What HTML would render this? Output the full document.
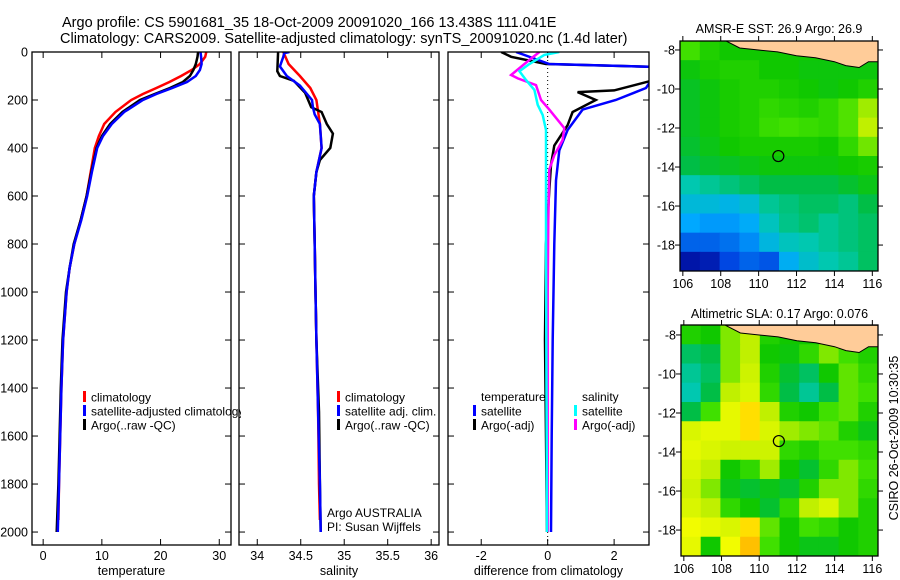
<!DOCTYPE html>
<html><head><meta charset="utf-8"><style>
html,body{margin:0;padding:0;background:#fff;}
svg{display:block;font-family:"Liberation Sans",sans-serif;}
text{fill:#000;}
</style></head><body>
<svg id="fig" width="900" height="580" viewBox="0 0 900 580" xmlns="http://www.w3.org/2000/svg">
<text x="62" y="27" font-size="14.5">Argo profile: CS 5901681_35 18-Oct-2009 20091020_166 13.438S 111.041E</text>
<text x="60" y="43" font-size="14.5">Climatology: CARS2009. Satellite-adjusted climatology: synTS_20091020.nc (1.4d later)</text>
<text transform="translate(898,438) rotate(-90)" text-anchor="middle" font-size="12.5">CSIRO 26-Oct-2009 10:30:35</text>
<g id="plots"></g>
</svg>
<script>
// ---------- profile data ----------
const depthTicks = [0,200,400,600,800,1000,1200,1400,1600,1800,2000];
const tempTicks = [0,10,20,30];
const salTicks = [34,34.5,35,35.5,36];
const salTickLabels = ["34","34.5","35","35.5","36"];
const diffTicks = [-2,0,2];

const tClimDepth = [0,20,50,75,100,125,150,175,200,250,300,350,400,500,600,700,800,900,1000,1200,1400,1600,1800,1950];
const tClimVal   = [27.8,27.6,26.7,25.3,23.5,21.5,19.3,17,15,12.3,10.4,9.5,8.8,8.1,7.4,6.4,5.3,4.5,4.0,3.4,3.1,2.9,2.7,2.6];
const tSatDepth = [0,20,50,75,100,125,150,175,200,250,300,350,400,500,600,700,800,900,1000,1200,1400,1600,1800,2000];
const tSatVal   = [26.8,26.9,27.0,26.7,26.0,24.5,22.0,19.3,17.0,13.8,11.7,10.2,9.2,8.3,7.5,6.5,5.3,4.5,4.0,3.4,3.1,2.9,2.7,2.5];
const tArgoDepth = [0,20,50,75,100,125,150,175,200,250,300,350,400,500,600,700,800,900,1000,1200,1400,1600,1800,2000];
const tArgoVal   = [26.4,26.3,26.0,25.6,25.0,23.8,21.6,19.0,16.5,13.5,11.4,10.0,9.1,8.2,7.4,6.4,5.2,4.5,3.9,3.3,3.0,2.8,2.6,2.3];

const sClimDepth = [0,50,100,150,200,300,400,500,600,800,1000,1200,1500,1800,1950];
const sClimVal   = [34.30,34.36,34.49,34.61,34.68,34.72,34.74,34.68,34.65,34.66,34.67,34.68,34.70,34.71,34.72];
const sSatDepth = [0,5,20,60,100,140,200,230,260,300,400,500,600,800,1000,1200,1500,1800,2000];
const sSatVal   = [34.37,34.31,34.30,34.26,34.34,34.49,34.63,34.64,34.66,34.72,34.74,34.68,34.65,34.66,34.67,34.68,34.70,34.72,34.73];
const sArgoDepth = [0,80,100,120,170,230,250,300,340,400,450,500,600,800,1000,1200,1500,1800,2000];
const sArgoVal   = [34.24,34.23,34.26,34.42,34.55,34.62,34.74,34.80,34.87,34.84,34.72,34.68,34.65,34.66,34.67,34.68,34.71,34.72,34.73];

const dTSatDepth = [0,50,62,100,150,200,240,325,410,535,800,1200,1600,2000];
const dTSatVal   = [-0.95,0.05,3.2,3.2,2.96,2.05,1.05,0.6,0.35,0.25,0.2,0.15,0.12,0.1];
const dTArgoDepth = [0,20,50,62,117,160,167,200,250,305,390,470,575,800,1200,1600,2000];
const dTArgoVal   = [-1.4,-1.1,-0.05,3.2,3.2,2.0,0.9,1.45,0.75,0.6,0.2,0.1,0.05,-0.05,-0.08,-0.05,-0.02];
const dSArgoDepth = [0,33,96,110,138,200,240,317,367,430,490,700,1000,1500,2000];
const dSArgoVal   = [-0.25,-0.55,-1.1,-0.9,-0.35,-0.2,0.05,0.5,0.45,0.2,0.05,0.02,0.0,0.0,0.0];
const dSSatDepth = [0,12,50,80,117,158,220,263,325,500,800,1200,1600,2000];
const dSSatVal   = [0.35,-0.1,-0.55,-0.85,-0.65,-0.4,-0.3,-0.15,-0.05,-0.05,-0.05,-0.04,-0.03,-0.02];

// ---------- map data ----------
const sstGrid = [
[0.62,0.58,0.56,0.56,0.56,0.56,0.56,0.56,0.72,0.78],
[0.55,0.57,0.58,0.58,0.56,0.56,0.55,0.55,0.55,0.55],
[0.53,0.55,0.57,0.58,0.58,0.57,0.56,0.55,0.56,0.58],
[0.53,0.55,0.57,0.58,0.60,0.59,0.58,0.60,0.63,0.68],
[0.53,0.55,0.57,0.58,0.61,0.62,0.61,0.60,0.63,0.70],
[0.52,0.54,0.56,0.57,0.57,0.57,0.57,0.56,0.60,0.65],
[0.50,0.52,0.53,0.54,0.55,0.55,0.55,0.55,0.56,0.57],
[0.42,0.44,0.46,0.48,0.50,0.50,0.50,0.50,0.52,0.54],
[0.36,0.36,0.34,0.37,0.44,0.46,0.48,0.48,0.46,0.50],
[0.30,0.28,0.28,0.31,0.40,0.45,0.47,0.44,0.46,0.48],
[0.20,0.20,0.22,0.26,0.35,0.40,0.42,0.44,0.46,0.48],
[0.05,0.07,0.16,0.20,0.18,0.32,0.38,0.42,0.44,0.48]];
const slaGrid = [
[0.58,0.56,0.66,0.70,0.58,0.56,0.56,0.58,0.56,0.60],
[0.48,0.50,0.66,0.70,0.56,0.55,0.60,0.66,0.62,0.58],
[0.44,0.48,0.66,0.72,0.58,0.52,0.48,0.56,0.64,0.60],
[0.42,0.50,0.70,0.74,0.60,0.50,0.44,0.50,0.64,0.62],
[0.50,0.62,0.76,0.84,0.70,0.58,0.56,0.62,0.64,0.58],
[0.74,0.76,0.76,0.84,0.74,0.68,0.66,0.64,0.58,0.54],
[0.76,0.74,0.72,0.72,0.72,0.60,0.58,0.62,0.62,0.60],
[0.74,0.70,0.56,0.60,0.68,0.56,0.52,0.60,0.66,0.62],
[0.72,0.66,0.54,0.52,0.54,0.52,0.58,0.66,0.66,0.60],
[0.74,0.70,0.60,0.56,0.52,0.60,0.70,0.74,0.66,0.58],
[0.78,0.76,0.74,0.84,0.64,0.56,0.62,0.60,0.56,0.58],
[0.76,0.56,0.78,0.88,0.62,0.56,0.54,0.54,0.56,0.58]];
const lonTicks = [106,108,110,112,114,116];
const latTicks = [-8,-10,-12,-14,-16,-18];
const coastLon = [108.2,109,110,111,112,113,114,114.6,115.3,115.8,116.4,116.4];
const coastLat = [-7.5,-7.9,-8.0,-8.1,-8.3,-8.4,-8.6,-8.8,-8.9,-8.6,-8.6,-7.5];
const argoLon = 111.041, argoLat = -13.438;

// ---------- drawing ----------
const NS='http://www.w3.org/2000/svg';
const root=document.getElementById('plots');
function mk(tag,attrs,parent){const e=document.createElementNS(NS,tag);for(const k in attrs)e.setAttribute(k,attrs[k]);(parent||root).appendChild(e);return e;}
const Y0=52, Y1=545, D1=2054;
const yD = d => Y0 + d*(Y1-Y0)/D1;

function panel(name,x0,x1,vmin,vmax,ticks,labels,xtitle,showY){
  const g=mk('g',{});
  
  
  const sx=v=>x0+(v-vmin)*(x1-x0)/(vmax-vmin);
  ticks.forEach((t,i)=>{
    const x=sx(t);
    const a=mk('line',{x1:x,x2:x,y1:Y1,y2:Y1-6,stroke:'#000','stroke-width':1},g);
    
    mk('line',{x1:x,x2:x,y1:Y0,y2:Y0+6,stroke:'#000','stroke-width':1},g);
    const tx=mk('text',{x:x,y:560,'text-anchor':'middle','font-size':12.5},g);
    
    tx.textContent=labels[i];
  });
  depthTicks.forEach(d=>{
    const y=yD(d);
    mk('line',{x1:x0,x2:x0+6,y1:y,y2:y,stroke:'#000'},g);
    mk('line',{x1:x1-6,x2:x1,y1:y,y2:y,stroke:'#000'},g);
    if(showY){const t=mk('text',{x:28,y:y+4.5,'text-anchor':'end','font-size':12.5},g);
      t.textContent=d;}
  });
  const tt=mk('text',{x:(x0+x1)/2,y:575,'text-anchor':'middle','font-size':12.5},g);
  
  tt.textContent=xtitle;
  const cp=mk('clipPath',{id:'cp-'+name},g);
  mk('rect',{x:x0,y:Y0,width:x1-x0,height:Y1-Y0},cp);
  const cpl=mk('clipPath',{id:'cpl-'+name},g);
  mk('rect',{x:x0,y:Y0,width:x1-x0+10,height:Y1-Y0},cpl);
  return {g,sx,clip:'url(#cp-'+name+')',lclip:'url(#cpl-'+name+')',x0,x1};
}
function line(p,name,depths,vals,color){
  const pts=depths.map((d,i)=>p.sx(vals[i]).toFixed(1)+','+yD(d).toFixed(1)).join(' ');
  const l=mk('polyline',{points:pts,fill:'none',stroke:color,'stroke-width':2.5,'clip-path':p.clip},p.g);
  
  
}
function frame(p){mk('rect',{x:p.x0,y:Y0,width:p.x1-p.x0,height:Y1-Y0,fill:'none',stroke:'#000','stroke-width':1.3},p.g);}
function legendItem(p,x,y,color,label,name){
  const g=p.g;
  mk('rect',{x:x,y:y-6,width:3,height:11,fill:color},g);
  const t=mk('text',{x:x+8,y:y+4.5,'font-size':12,'clip-path':p.lclip},g);
  
  t.textContent=label;
}

const p1=panel('temperature',32,231,-1.9,32,tempTicks,tempTicks.map(String),'temperature',true);
line(p1,'temp-climatology-line',tClimDepth,tClimVal,'#ff0000');
line(p1,'temp-argo-line',tArgoDepth,tArgoVal,'#000000');
line(p1,'temp-satellite-line',tSatDepth,tSatVal,'#0000ff');
frame(p1);
legendItem(p1,83,397,'#ff0000','climatology','legend-climatology');
legendItem(p1,83,411,'#0000ff','satellite-adjusted climatology','legend-satellite');
legendItem(p1,83,425,'#000000','Argo(..raw -QC)','legend-argo');

const p2=panel('salinity',239,439,33.79,36.09,salTicks,salTickLabels,'salinity',false);
line(p2,'sal-climatology-line',sClimDepth,sClimVal,'#ff0000');
line(p2,'sal-argo-line',sArgoDepth,sArgoVal,'#000000');
line(p2,'sal-satellite-line',sSatDepth,sSatVal,'#0000ff');
frame(p2);
legendItem(p2,337,397,'#ff0000','climatology','legend-climatology');
legendItem(p2,337,411,'#0000ff','satellite adj. clim.','legend-satellite');
legendItem(p2,337,425,'#000000','Argo(..raw -QC)','legend-argo');
{const t=mk('text',{x:327,y:517,'font-size':12},p2.g);t.textContent='Argo AUSTRALIA';
 const t2=mk('text',{x:327,y:531,'font-size':12},p2.g);t2.textContent='PI: Susan Wijffels';}

const p3=panel('difference',448,649,-3.0,3.05,diffTicks,diffTicks.map(String),'difference from climatology',false);
mk('line',{x1:p3.sx(0),x2:p3.sx(0),y1:Y0,y2:Y1,stroke:'#000','stroke-dasharray':'1,3'},p3.g);
line(p3,'diff-temp-argo-line',dTArgoDepth,dTArgoVal,'#000000');
line(p3,'diff-temp-satellite-line',dTSatDepth,dTSatVal,'#0000ff');
line(p3,'diff-sal-argo-line',dSArgoDepth,dSArgoVal,'#ff00ff');
line(p3,'diff-sal-satellite-line',dSSatDepth,dSSatVal,'#00ffff');
frame(p3);
{const t=mk('text',{x:481,y:401,'font-size':12},p3.g);t.textContent='temperature';
 const t2=mk('text',{x:582,y:401,'font-size':12},p3.g);t2.textContent='salinity';}
legendItem(p3,473,411,'#0000ff','satellite','legend-temp-satellite');
legendItem(p3,473,425,'#000000','Argo(-adj)','legend-temp-argo');
legendItem(p3,574,411,'#00ffff','satellite','legend-sal-satellite');
legendItem(p3,574,425,'#ff00ff','Argo(-adj)','legend-sal-argo');

// colormap
const cStops=[[0,[0,0,140]],[0.15,[0,64,224]],[0.3,[0,168,255]],[0.42,[0,200,176]],[0.5,[0,190,70]],[0.56,[16,200,0]],[0.62,[64,224,0]],[0.7,[192,240,0]],[0.8,[255,255,0]],[0.9,[255,176,0]],[1,[255,96,0]]];
function cmap(v){for(let i=1;i<cStops.length;i++){if(v<=cStops[i][0]){const a=cStops[i-1],b=cStops[i],f=(v-a[0])/(b[0]-a[0]);return 'rgb('+a[1].map((c,j)=>Math.round(c+f*(b[1][j]-c))).join(',')+')';}}return 'rgb(255,96,0)';}

function map(name,x0,x1,y0,y1,latTop,latBot,grid,title,titleY,latLabels){
  const g=mk('g',{});
  
  
  const lon0=105.85,lon1=116.3;
  const sx=l=>x0+(l-lon0)*(x1-x0)/(lon1-lon0);
  const sy=la=>y0+(latTop-la)*(y1-y0)/(latTop-latBot);
  const cp=mk('clipPath',{id:'cp-'+name},g);
  mk('rect',{x:x0,y:y0,width:x1-x0,height:y1-y0},cp);
  const inner=mk('g',{'clip-path':'url(#cp-'+name+')'},g);
  const rows=grid.length,cols=grid[0].length;
  const dLon=(lon1-lon0)/cols,dLat=(latTop-latBot)/rows;
  grid.forEach((row,r)=>row.forEach((v,c)=>{
    const xa=sx(lon0+c*dLon),xb=sx(lon0+(c+1)*dLon),ya=sy(latTop-r*dLat),yb=sy(latTop-(r+1)*dLat);
    const cell=mk('rect',{x:xa,y:ya,width:xb-xa+0.5,height:yb-ya+0.5,fill:cmap(v)},inner);
    
    
  }));
  const pts=coastLon.map((l,i)=>sx(l).toFixed(1)+','+sy(coastLat[i]).toFixed(1)).join(' ');
  const land=mk('polygon',{points:pts,fill:'#ffcc99',stroke:'#000','stroke-width':1},inner);
  
  const m=mk('circle',{cx:sx(argoLon),cy:sy(argoLat),r:5.5,fill:'none',stroke:'#000','stroke-width':1.2},g);
  
  mk('rect',{x:x0,y:y0,width:x1-x0,height:y1-y0,fill:'none',stroke:'#000','stroke-width':1.3},g);
  lonTicks.forEach(l=>{const x=sx(l);
    mk('line',{x1:x,x2:x,y1:y1,y2:y1+5,stroke:'#000'},g);mk('line',{x1:x,x2:x,y1:y0,y2:y0-5,stroke:'#000'},g);
    const t=mk('text',{x:x,y:y1+17,'text-anchor':'middle','font-size':12.5},g);t.textContent=l;});
  latTicks.forEach((la,i)=>{const y=sy(la);
    mk('line',{x1:x0-5,x2:x0,y1:y,y2:y,stroke:'#000'},g);mk('line',{x1:x1,x2:x1+5,y1:y,y2:y,stroke:'#000'},g);
    const t=mk('text',{x:x0-5,y:y+4.5,'text-anchor':'end','font-size':12.5},g);t.textContent=latLabels[i];});
  const tt=mk('text',{x:(x0+x1)/2,y:titleY,'text-anchor':'middle','font-size':12.5},g);
  tt.textContent=title;
}
map('sst-map',680,878,41,271,-7.54,-19.33,sstGrid,'AMSR-E SST: 26.9 Argo: 26.9',33,latTicks.map(String));
map('sla-map',681,878,325,556,-7.49,-19.33,slaGrid,'Altimetric SLA: 0.17 Argo: 0.076',318,latTicks.map(String));
</script>
</body></html>
